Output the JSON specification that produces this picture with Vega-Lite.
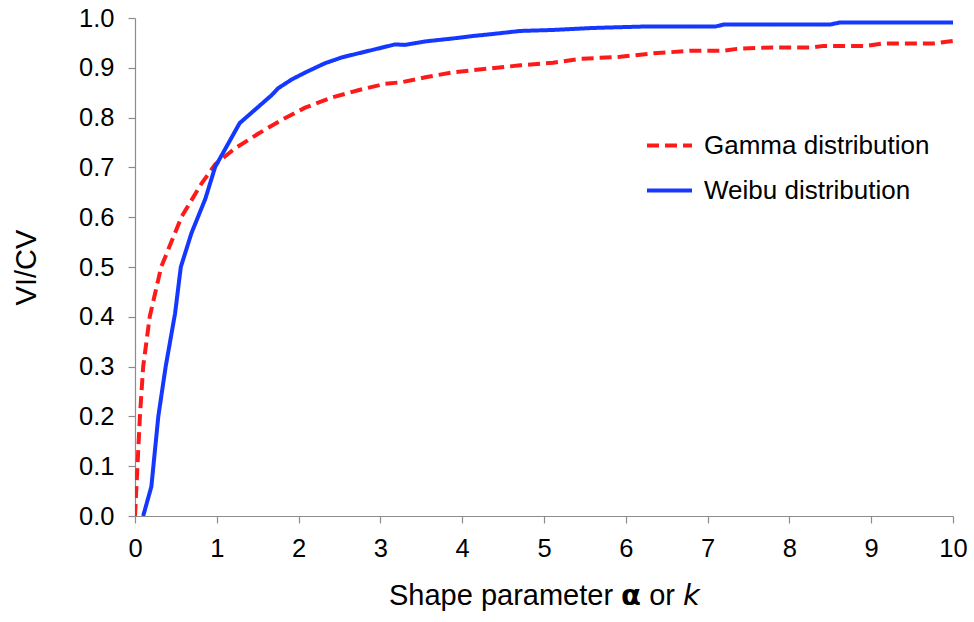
{
  "$schema": "https://vega.github.io/schema/vega-lite/v6.json",
  "width": 818,
  "height": 498,
  "autosize": {"type": "none"},
  "padding": {"left": 135, "top": 18, "right": 21, "bottom": 106},
  "background": "white",
  "config": {
    "view": {"stroke": null},
    "font": "Liberation Sans",
    "axis": {
      "grid": false,
      "domainColor": "#8c8c8c",
      "tickColor": "#8c8c8c",
      "domainWidth": 1.2,
      "tickWidth": 1.2,
      "tickSize": 7,
      "labelColor": "#000000",
      "titleColor": "#000000",
      "labelFont": "Liberation Sans",
      "titleFont": "Liberation Sans",
      "labelFontSize": 25.5,
      "titleFontSize": 29,
      "titleFontWeight": "normal",
      "labelFlush": false
    }
  },
  "data": {
    "values": [
      {"x": 0.0, "v": 0.0, "series": "Gamma distribution"},
      {"x": 0.03, "v": 0.1, "series": "Gamma distribution"},
      {"x": 0.06, "v": 0.2, "series": "Gamma distribution"},
      {"x": 0.1, "v": 0.3, "series": "Gamma distribution"},
      {"x": 0.18, "v": 0.4, "series": "Gamma distribution"},
      {"x": 0.32, "v": 0.5, "series": "Gamma distribution"},
      {"x": 0.57, "v": 0.601, "series": "Gamma distribution"},
      {"x": 0.815, "v": 0.668, "series": "Gamma distribution"},
      {"x": 0.98, "v": 0.706, "series": "Gamma distribution"},
      {"x": 1.22, "v": 0.738, "series": "Gamma distribution"},
      {"x": 1.51, "v": 0.768, "series": "Gamma distribution"},
      {"x": 1.79, "v": 0.795, "series": "Gamma distribution"},
      {"x": 2.08, "v": 0.82, "series": "Gamma distribution"},
      {"x": 2.4, "v": 0.84, "series": "Gamma distribution"},
      {"x": 2.73, "v": 0.855, "series": "Gamma distribution"},
      {"x": 3.06, "v": 0.868, "series": "Gamma distribution"},
      {"x": 3.26, "v": 0.871, "series": "Gamma distribution"},
      {"x": 3.55, "v": 0.881, "series": "Gamma distribution"},
      {"x": 3.89, "v": 0.891, "series": "Gamma distribution"},
      {"x": 4.3, "v": 0.898, "series": "Gamma distribution"},
      {"x": 4.71, "v": 0.905, "series": "Gamma distribution"},
      {"x": 5.11, "v": 0.91, "series": "Gamma distribution"},
      {"x": 5.44, "v": 0.918, "series": "Gamma distribution"},
      {"x": 5.93, "v": 0.922, "series": "Gamma distribution"},
      {"x": 6.34, "v": 0.929, "series": "Gamma distribution"},
      {"x": 6.78, "v": 0.934, "series": "Gamma distribution"},
      {"x": 7.19, "v": 0.934, "series": "Gamma distribution"},
      {"x": 7.36, "v": 0.938, "series": "Gamma distribution"},
      {"x": 7.8, "v": 0.941, "series": "Gamma distribution"},
      {"x": 8.29, "v": 0.941, "series": "Gamma distribution"},
      {"x": 8.42, "v": 0.944, "series": "Gamma distribution"},
      {"x": 8.94, "v": 0.944, "series": "Gamma distribution"},
      {"x": 9.14, "v": 0.949, "series": "Gamma distribution"},
      {"x": 9.76, "v": 0.949, "series": "Gamma distribution"},
      {"x": 10.0, "v": 0.954, "series": "Gamma distribution"},
      {"x": 0.1, "v": 0.0, "series": "Weibu distribution"},
      {"x": 0.2, "v": 0.059, "series": "Weibu distribution"},
      {"x": 0.285, "v": 0.2, "series": "Weibu distribution"},
      {"x": 0.375, "v": 0.3, "series": "Weibu distribution"},
      {"x": 0.49, "v": 0.407, "series": "Weibu distribution"},
      {"x": 0.56, "v": 0.5, "series": "Weibu distribution"},
      {"x": 0.69, "v": 0.568, "series": "Weibu distribution"},
      {"x": 0.754, "v": 0.594, "series": "Weibu distribution"},
      {"x": 0.86, "v": 0.637, "series": "Weibu distribution"},
      {"x": 0.98, "v": 0.701, "series": "Weibu distribution"},
      {"x": 1.28, "v": 0.789, "series": "Weibu distribution"},
      {"x": 1.51, "v": 0.822, "series": "Weibu distribution"},
      {"x": 1.67, "v": 0.845, "series": "Weibu distribution"},
      {"x": 1.75, "v": 0.859, "series": "Weibu distribution"},
      {"x": 1.92, "v": 0.877, "series": "Weibu distribution"},
      {"x": 2.1, "v": 0.892, "series": "Weibu distribution"},
      {"x": 2.32, "v": 0.909, "series": "Weibu distribution"},
      {"x": 2.53, "v": 0.921, "series": "Weibu distribution"},
      {"x": 2.73, "v": 0.929, "series": "Weibu distribution"},
      {"x": 2.93, "v": 0.937, "series": "Weibu distribution"},
      {"x": 3.18, "v": 0.947, "series": "Weibu distribution"},
      {"x": 3.3, "v": 0.946, "series": "Weibu distribution"},
      {"x": 3.55, "v": 0.953, "series": "Weibu distribution"},
      {"x": 3.89, "v": 0.959, "series": "Weibu distribution"},
      {"x": 4.14, "v": 0.964, "series": "Weibu distribution"},
      {"x": 4.38, "v": 0.968, "series": "Weibu distribution"},
      {"x": 4.71, "v": 0.974, "series": "Weibu distribution"},
      {"x": 5.11, "v": 0.976, "series": "Weibu distribution"},
      {"x": 5.6, "v": 0.98, "series": "Weibu distribution"},
      {"x": 6.25, "v": 0.983, "series": "Weibu distribution"},
      {"x": 7.1, "v": 0.983, "series": "Weibu distribution"},
      {"x": 7.2, "v": 0.987, "series": "Weibu distribution"},
      {"x": 8.5, "v": 0.987, "series": "Weibu distribution"},
      {"x": 8.62, "v": 0.991, "series": "Weibu distribution"},
      {"x": 10.0, "v": 0.991, "series": "Weibu distribution"}
    ]
  },
  "mark": {"type": "line", "strokeWidth": 4, "strokeCap": "butt", "strokeJoin": "round", "clip": true},
  "encoding": {
    "x": {
      "field": "x",
      "type": "quantitative",
      "scale": {"domain": [0, 10], "nice": false, "zero": false},
      "axis": {
        "values": [0, 1, 2, 3, 4, 5, 6, 7, 8, 9, 10],
        "format": "d",
        "labelPadding": 13,
        "title": "Shape parameter 𝝰 or 𝘬",
        "titlePadding": 20
      }
    },
    "y": {
      "field": "v",
      "type": "quantitative",
      "scale": {"domain": [0, 1], "nice": false},
      "axis": {
        "values": [0, 0.1, 0.2, 0.3, 0.4, 0.5, 0.6, 0.7, 0.8, 0.9, 1.0],
        "format": ".1f",
        "labelPadding": 14,
        "title": "VI/CV",
        "titlePadding": 37
      }
    },
    "color": {
      "field": "series",
      "type": "nominal",
      "scale": {"domain": ["Gamma distribution", "Weibu distribution"], "range": ["#ff1a1a", "#1438ff"]},
      "legend": {
        "title": null,
        "orient": "none",
        "legendX": 510,
        "legendY": 103,
        "symbolType": "stroke",
        "symbolSize": 2025,
        "symbolStrokeWidth": 4,
        "labelFontSize": 26,
        "labelFont": "Liberation Sans",
        "labelColor": "#000000",
        "labelOffset": 10,
        "labelLimit": 500,
        "rowPadding": 7
      }
    },
    "strokeDash": {
      "field": "series",
      "type": "nominal",
      "scale": {"domain": ["Gamma distribution", "Weibu distribution"], "range": [[12, 6], [1, 0]]},
      "legend": null
    }
  }
}
